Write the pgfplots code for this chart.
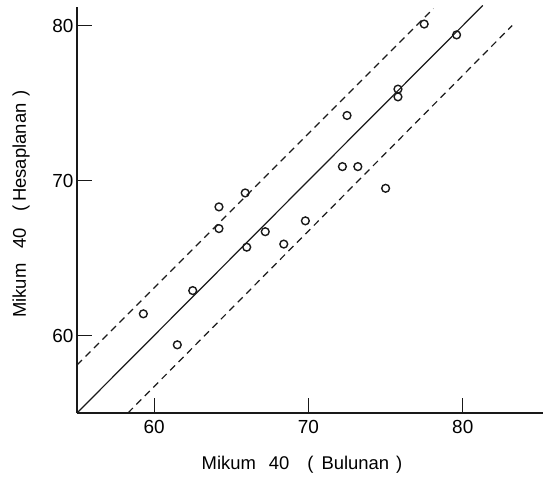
\documentclass[border=0pt]{standalone}
\usepackage{fontspec}
\setmainfont{Liberation Sans}
\usepackage{pgfplots}
\pgfplotsset{compat=1.18}
\begin{document}
\begin{tikzpicture}
\begin{axis}[
  scale only axis,
  width=466bp, height=406bp,
  xmin=55, xmax=85.2, ymin=55, ymax=81.2,
  axis x line*=bottom, axis y line*=left,
  axis line style={line width=1.5bp, color=black!90},
  xtick={60,70,80}, ytick={60,70,80},
  tick align=inside,
  major tick length=15bp,
  tick style={line width=1.2bp, color=black!90},
  /pgf/number format/assume math mode=true,
  xticklabel style={yshift=-4bp, font=\fontsize{19}{19}\selectfont},
  yticklabel style={font=\fontsize{19}{19}\selectfont},
  xlabel={Mikum\hspace{13bp}40\hspace{18bp}(\hspace{8bp}Bulunan\hspace{7bp})},
  ylabel={Mikum\hspace{15bp}40\hspace{16bp}(\hspace{4bp}Hesaplanan\hspace{7bp})},
  every axis x label/.style={at={(rel axis cs:0.5,0)}, anchor=center, yshift=-52bp, xshift=-8bp, font=\fontsize{18.5}{20}\selectfont},
  every axis y label/.style={at={(rel axis cs:0,0.5)}, anchor=center, rotate=90, yshift=56bp, xshift=6bp, font=\fontsize{18.5}{20}\selectfont},
  clip=false,
]
\coordinate (O) at (rel axis cs:0,0);
\addplot[black!90, line width=1.2bp, no markers] coordinates {(55,55) (81.3,81.3)};
\addplot[black!90, line width=1.2bp, no markers, dash pattern=on 7bp off 5bp] coordinates {(55,58.1) (78.1,81.1)};
\addplot[black!90, line width=1.2bp, no markers, dash pattern=on 7bp off 5bp] coordinates {(58.3,55) (83.2,80.0)};
\addplot[only marks, mark=o, mark size=3.9bp, mark options={line width=1.4bp, black!90}] coordinates {
(77.5,80.1) (79.6,79.4) (75.8,75.9) (75.8,75.4) (72.5,74.2)
(72.2,70.9) (73.2,70.9) (75.0,69.5) (69.8,67.4) (67.2,66.7)
(68.4,65.9) (64.2,68.3) (65.9,69.2) (64.2,66.9) (66.0,65.7)
(62.5,62.9) (59.3,61.4) (61.5,59.4)
};
\end{axis}
\path (O) ++(-77bp,-65bp) rectangle ++(545bp,478bp);
\end{tikzpicture}
\end{document}
